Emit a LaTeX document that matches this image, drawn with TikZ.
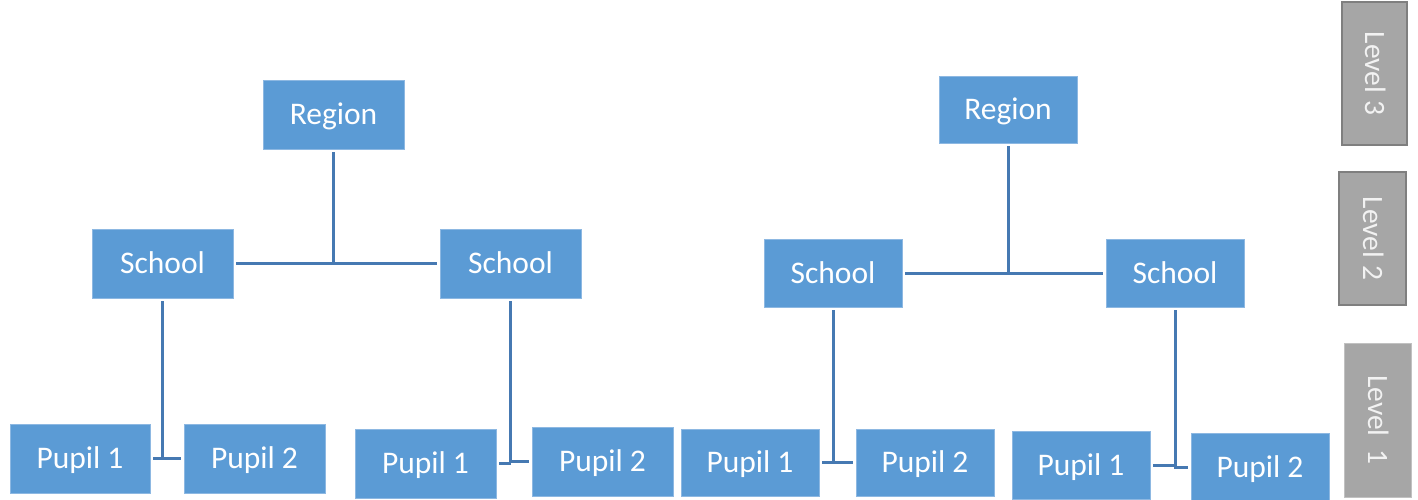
\documentclass[tikz,border=0pt]{standalone}
\usepackage{fontspec}
\setmainfont{Carlito}
\definecolor{boxblue}{HTML}{5B9BD5}
\definecolor{boxedge}{HTML}{8DB8E2}
\definecolor{linkblue}{HTML}{4679B2}
\definecolor{levelfill}{HTML}{A6A6A6}
\definecolor{leveledge}{HTML}{7F7F7F}
\definecolor{leveltext}{HTML}{F2F2F2}
\tikzset{
  unit/.style={draw=boxedge, line width=0.6pt, fill=boxblue, text=white,
    inner sep=0pt, text height=20.5pt, text depth=0pt,
    font=\fontsize{31.5}{34}\selectfont},
  levelbox/.style={fill=levelfill, draw=leveledge, line width=2pt, text=leveltext,
    rotate=-90, inner sep=0pt, text height=19pt, text depth=0pt,
    font=\fontsize{29.5}{32}\selectfont},
  link/.style={draw=linkblue, line width=3pt, shorten <=3pt, shorten >=3pt}
}
\begin{document}
\begin{tikzpicture}[x=1pt, y=-1pt]
\useasboundingbox (0,0) rectangle (1418,499);

% left hierarchy
\node[unit, minimum width=141pt, minimum height=69pt] (rA) at (333.5,114.5) {Region};
\node[unit, minimum width=141pt, minimum height=69pt] (sA1) at (162.5,263.5) {School};
\node[unit, minimum width=141pt, minimum height=69pt] (sA2) at (510.5,263.5) {School};
\node[unit, minimum width=140pt, minimum height=69pt] (pA11) at (80,458.5) {Pupil 1};
\node[unit, minimum width=141pt, minimum height=69pt] (pA12) at (254.5,458.5) {Pupil 2};
\node[unit, minimum width=141pt, minimum height=69pt] (pA21) at (425.5,463.5) {Pupil 1};
\node[unit, minimum width=141pt, minimum height=69pt] (pA22) at (602.5,461.5) {Pupil 2};

% right hierarchy
\node[unit, minimum width=138pt, minimum height=67pt] (rB) at (1008,109.5) {Region};
\node[unit, minimum width=138pt, minimum height=68pt] (sB1) at (833,273) {School};
\node[unit, minimum width=138pt, minimum height=68pt] (sB2) at (1175,273) {School};
\node[unit, minimum width=138pt, minimum height=67pt] (pB11) at (750,462.5) {Pupil 1};
\node[unit, minimum width=138pt, minimum height=67pt] (pB12) at (925,462.5) {Pupil 2};
\node[unit, minimum width=138pt, minimum height=68pt] (pB21) at (1081,465) {Pupil 1};
\node[unit, minimum width=138pt, minimum height=68pt] (pB22) at (1260,467) {Pupil 2};

% level markers
\node[levelbox, minimum width=143pt, minimum height=65pt] (lv3) at (1374.5,73.5) {Level 3};
\node[levelbox, minimum width=133pt, minimum height=67pt] (lv2) at (1372.5,238.5) {Level 2};
\node[levelbox, draw=levelfill!70!white, line width=0.8pt,
      minimum width=154pt, minimum height=67pt] (lv1) at (1377.5,420) {Level\ \ 1};

% left connectors
\draw[link] (sA1.east) -- (sA2.west);
\draw[link, shorten >=0pt] (rA.south) -- (rA.south |- sA1.east);
\draw[link] (sA1.south) |- (pA12.west);
\draw[link, shorten >=0pt] (pA11.east) -- (pA11.east -| sA1.south);
\draw[link] (sA2.south) |- (pA22.west);
\draw[link, shorten >=0pt] (pA21.east) -- (pA21.east -| sA2.south);

% right connectors
\draw[link] (sB1.east) -- (sB2.west);
\draw[link, shorten >=0pt] (rB.south) -- (rB.south |- sB1.east);
\draw[link] (sB1.south) |- (pB12.west);
\draw[link, shorten >=0pt] (pB11.east) -- (pB11.east -| sB1.south);
\draw[link] (sB2.south) |- (pB22.west);
\draw[link, shorten >=0pt] (pB21.east) -- (pB21.east -| sB2.south);
\end{tikzpicture}
\end{document}
